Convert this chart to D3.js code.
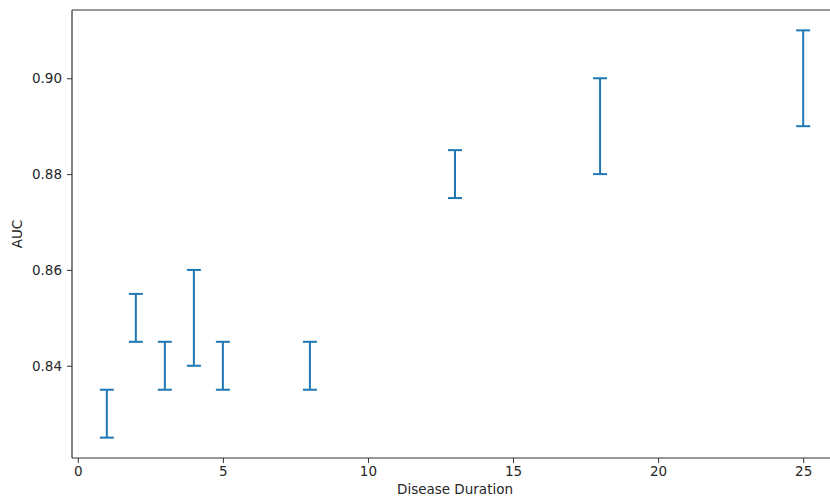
<!DOCTYPE html>
<html>
<head>
<meta charset="utf-8">
<script src="https://cdn.jsdelivr.net/npm/d3@7"></script>
<style>
  body { margin: 0; background: #fff; }
  text { font-family: "DejaVu Sans", sans-serif; fill: #262626; }
</style>
</head>
<body>
<div id="chart"></div>
<script>
// disease duration (years) and AUC interval bounds
const durations = [1, 2, 3, 4, 5, 8, 13, 18, 25];
const aucLow  = [0.825, 0.845, 0.835, 0.840, 0.835, 0.835, 0.875, 0.880, 0.890];
const aucHigh = [0.835, 0.855, 0.845, 0.860, 0.845, 0.845, 0.885, 0.900, 0.910];
const xTicks = [0, 5, 10, 15, 20, 25];
const yTicks = [0.84, 0.86, 0.88, 0.90];

const data = durations.map((d, i) => ({ x: d, lo: aucLow[i], hi: aucHigh[i] }));

const width = 830;
const height = 500;
// the right edge of the axes falls just outside the picture, as in the original
const margin = { top: 10, bottom: 42, left: 72 };
const axesWidth = 766;
const innerHeight = height - margin.top - margin.bottom;
const visibleWidth = width - margin.left;

const svg = d3.select("#chart").append("svg")
  .attr("width", width)
  .attr("height", height);

const g = svg.append("g")
  .attr("transform", `translate(${margin.left},${margin.top})`);

// scales, matplotlib-like 5% padding
const x = d3.scaleLinear().domain([-0.2, 26.2]).range([0, axesWidth]);
const y = d3.scaleLinear().domain([0.82075, 0.91425]).range([innerHeight, 0]);

// spines (top, left, bottom)
const spine = g.append("g").attr("stroke", "#333").attr("stroke-width", 1.2);
spine.append("line").attr("x1", 0).attr("x2", visibleWidth).attr("y1", 0).attr("y2", 0);
spine.append("line").attr("x1", 0).attr("x2", 0).attr("y1", 0).attr("y2", innerHeight);
spine.append("line").attr("x1", 0).attr("x2", visibleWidth).attr("y1", innerHeight).attr("y2", innerHeight);

// x axis
const xAxis = g.append("g")
  .attr("transform", `translate(0,${innerHeight})`)
  .call(d3.axisBottom(x).tickValues(xTicks).tickSize(5).tickPadding(3).tickFormat(d3.format("d")));
xAxis.select(".domain").remove();
xAxis.selectAll("line").attr("stroke", "#333").attr("stroke-width", 1);
xAxis.selectAll("text").attr("font-size", 13.5);

// y axis
const yAxis = g.append("g")
  .call(d3.axisLeft(y).tickValues(yTicks).tickSize(5).tickPadding(5).tickFormat(d3.format(".2f")));
yAxis.select(".domain").remove();
yAxis.selectAll("line").attr("stroke", "#333").attr("stroke-width", 1);
yAxis.selectAll("text").attr("font-size", 13.5);

// error bars
const cap = 7;
const bars = g.selectAll(".err").data(data).enter().append("g").attr("class", "err")
  .attr("stroke", "#1f77b4")
  .attr("stroke-width", 2);
bars.append("line")
  .attr("x1", d => x(d.x)).attr("x2", d => x(d.x))
  .attr("y1", d => y(d.lo)).attr("y2", d => y(d.hi));
bars.append("line")
  .attr("x1", d => x(d.x) - cap).attr("x2", d => x(d.x) + cap)
  .attr("y1", d => y(d.lo)).attr("y2", d => y(d.lo));
bars.append("line")
  .attr("x1", d => x(d.x) - cap).attr("x2", d => x(d.x) + cap)
  .attr("y1", d => y(d.hi)).attr("y2", d => y(d.hi));

// axis labels
svg.append("text")
  .attr("x", margin.left + axesWidth / 2)
  .attr("y", 494)
  .attr("text-anchor", "middle")
  .attr("font-size", 13.5)
  .text("Disease Duration");

svg.append("text")
  .attr("transform", `translate(22,${margin.top + innerHeight / 2}) rotate(-90)`)
  .attr("text-anchor", "middle")
  .attr("font-size", 13.5)
  .text("AUC");
</script>
</body>
</html>
